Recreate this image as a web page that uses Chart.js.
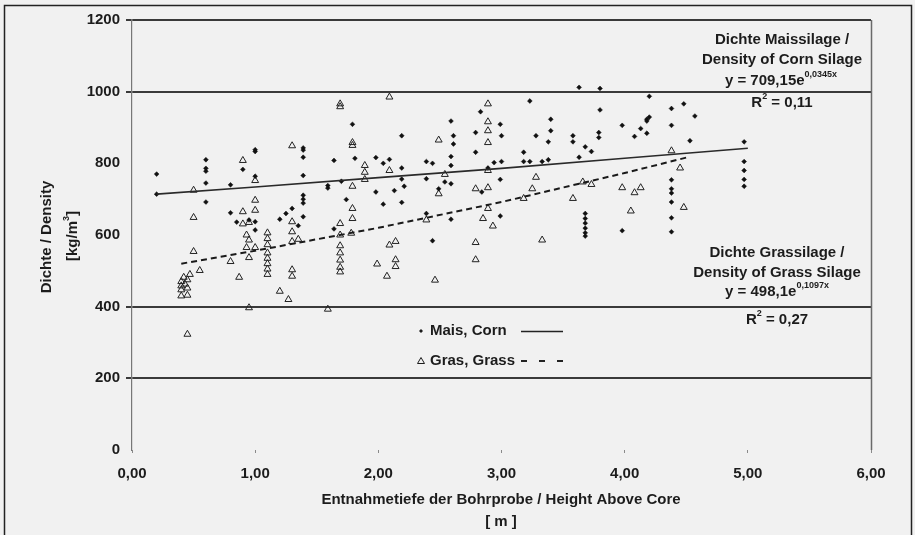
<!DOCTYPE html>
<html>
<head>
<meta charset="utf-8">
<script src="https://cdn.jsdelivr.net/npm/chart.js@4/dist/chart.umd.min.js"></script>
<style>
  html, body { margin: 0; padding: 0; background: #f1f1f1; }
  #wrap { position: relative; width: 915px; height: 535px; overflow: hidden; }
  canvas { display: block; }
</style>
</head>
<body>
<div id="wrap"><canvas id="c" width="915" height="535"></canvas></div>
<script>
// ---- Data ----
const cornX = [
  0.2,0.2,
  0.6,0.6,0.6,0.6,0.6,
  0.8,0.8,0.85,0.9,0.95,
  1.0,1.0,1.0,1.0,1.0,
  1.2,1.25,1.3,1.35,
  1.39,1.39,1.39,1.39,1.39,1.39,1.39,1.39,
  1.59,1.59,1.64,1.64,1.7,1.74,1.79,1.81,
  1.98,1.98,2.04,2.04,2.09,2.13,
  2.19,2.19,2.19,2.19,2.21,
  2.39,2.39,2.39,2.44,2.44,2.49,2.54,
  2.59,2.59,2.59,2.59,2.59,2.61,2.61,
  2.79,2.79,2.83,2.84,2.89,2.94,
  2.99,2.99,2.99,3.0,3.0,
  3.18,3.18,3.23,3.23,3.28,3.33,
  3.38,3.38,3.4,3.4,
  3.58,3.58,3.63,3.63,
  3.68,3.68,3.68,3.68,3.68,3.68,3.68,
  3.73,3.79,3.79,3.8,3.8,
  3.98,3.98,4.08,4.13,
  4.18,4.18,4.18,4.2,4.2,
  4.38,4.38,4.38,4.38,4.38,4.38,4.38,4.38,
  4.48,4.53,4.57,
  4.97,4.97,4.97,4.97,4.97
];
const cornY = [
  770,714,
  810,786,778,745,692,
  740,662,636,783,642,
  833,838,764,637,614,
  644,660,674,626,
  843,837,817,766,711,700,689,651,
  738,731,808,617,750,699,909,814,
  816,720,800,686,811,724,
  877,787,756,691,736,
  805,757,660,800,584,729,748,
  918,819,794,743,644,877,854,
  886,831,944,720,787,802,
  909,755,653,877,805,
  831,805,974,805,877,805,
  860,810,923,891,
  877,860,1012,817,
  846,660,646,633,619,606,597,
  833,886,872,1009,949,
  906,612,875,897,
  884,923,918,987,929,
  953,906,754,729,717,692,648,609,
  966,863,932,
  860,805,780,755,736
];
const grassX = [
  0.4,0.4,0.4,0.4,0.42,0.43,
  0.45,0.45,0.45,0.45,0.47,
  0.5,0.5,0.5,0.55,0.8,0.87,
  0.9,0.9,0.9,0.93,0.93,
  0.95,0.95,0.95,0.95,
  1.0,1.0,1.0,1.0,
  1.1,1.1,1.1,1.1,1.1,1.1,1.1,1.1,
  1.2,1.27,
  1.3,1.3,1.3,1.3,1.3,1.3,1.35,
  1.59,
  1.69,1.69,1.69,1.69,1.69,1.69,1.69,1.69,1.69,
  1.78,1.79,1.79,1.79,1.79,1.79,
  1.89,1.89,1.89,1.99,2.07,
  2.09,2.09,2.09,2.14,2.14,2.14,
  2.39,2.46,2.49,2.49,2.54,
  2.79,2.79,2.79,2.85,
  2.89,2.89,2.89,2.89,2.89,2.89,2.89,
  2.93,3.18,3.25,3.28,3.33,
  3.58,3.66,3.73,3.98,4.05,4.08,4.13,
  4.38,4.45,4.48
];
const grassY = [
  470,458,447,430,482,463,
  452,475,432,323,490,
  725,649,554,501,526,482,
  808,665,631,600,565,
  586,537,397,635,
  752,697,669,565,
  606,590,573,550,535,520,505,490,
  443,420,
  849,637,609,582,503,485,588,
  393,
  966,958,632,600,570,550,530,510,497,
  605,858,850,736,674,646,
  794,775,755,519,485,
  985,780,572,582,531,512,
  642,474,865,715,769,
  729,579,531,646,
  966,916,891,858,780,732,674,
  625,702,729,761,586,
  702,748,741,732,667,718,732,
  835,787,677
];
// Trend lines
const trendCornX = [0.2, 1, 2, 3, 4, 5];
const trendCornY = [714, 734, 760, 786, 814, 842];
const trendGrassX = [0.4, 1, 2, 3, 4, 4.5];
const trendGrassY = [520, 556, 620, 692, 773, 816];
// Axis settings
const yGridValues = [1200, 1000, 400, 200];
const xTickValues = [0, 1, 2, 3, 4, 5, 6];

const FONT = '"Liberation Sans", Arial, Helvetica, sans-serif';
const INK = '#1c1c1c';

function pts(xs, ys) { return xs.map((x, i) => ({ x: x, y: ys[i] })); }

const textPlugin = {
  id: 'texts',
  afterDraw(chart) {
    const ctx = chart.ctx;
    const ca = chart.chartArea;
    ctx.save();
    // right border of the plot
    ctx.strokeStyle = '#6a6a6a';
    ctx.lineWidth = 1.5;
    ctx.beginPath();
    ctx.moveTo(Math.round(ca.right) + 0.5, ca.top);
    ctx.lineTo(Math.round(ca.right) + 0.5, ca.bottom);
    ctx.stroke();
    // outer frame
    ctx.strokeStyle = '#222';
    ctx.lineWidth = 1.5;
    ctx.strokeRect(4.5, 5.5, 907, 545);

    ctx.fillStyle = INK;
    ctx.textBaseline = 'middle';
    ctx.textAlign = 'center';
    ctx.font = 'bold 15px ' + FONT;

    // x axis title
    ctx.fillText('Entnahmetiefe der Bohrprobe / Height Above Core', 501, 500);
    ctx.fillText('[ m ]', 501, 522);

    // y axis title (rotated)
    ctx.save();
    ctx.translate(47, 237);
    ctx.rotate(-Math.PI / 2);
    ctx.fillText('Dichte / Density', 0, 0);
    ctx.restore();
    ctx.save();
    ctx.translate(73, 236);
    ctx.rotate(-Math.PI / 2);
    drawSup(ctx, '[kg/m', '3', ']', 0, 0, 15, 9);
    ctx.restore();

    // equations blocks
    ctx.font = 'bold 15px ' + FONT;
    ctx.fillText('Dichte Maissilage /', 782, 40);
    ctx.fillText('Density of Corn Silage', 782, 60);
    drawSup(ctx, 'y = 709,15e', '0,0345x', '', 781, 81, 15, 9);
    drawSup(ctx, 'R', '2', ' = 0,11', 782, 103, 15, 9);

    ctx.fillText('Dichte Grassilage /', 777, 253);
    ctx.fillText('Density of Grass Silage', 777, 273);
    drawSup(ctx, 'y = 498,1e', '0,1097x', '', 777, 292, 15, 9);
    drawSup(ctx, 'R', '2', ' = 0,27', 777, 320, 15, 9);

    // legend
    ctx.textAlign = 'left';
    ctx.font = 'bold 15px ' + FONT;
    ctx.fillText('Mais, Corn', 430, 331);
    ctx.fillText('Gras, Grass', 430, 361);
    // corn marker
    ctx.beginPath();
    ctx.moveTo(421, 329); ctx.lineTo(423, 331); ctx.lineTo(421, 333); ctx.lineTo(419, 331);
    ctx.closePath();
    ctx.fill();
    // grass marker
    ctx.strokeStyle = INK;
    ctx.lineWidth = 1;
    ctx.beginPath();
    ctx.moveTo(421, 357.5); ctx.lineTo(424.5, 363.5); ctx.lineTo(417.5, 363.5);
    ctx.closePath();
    ctx.stroke();
    // legend lines
    ctx.lineWidth = 1.5;
    ctx.strokeStyle = '#222';
    ctx.beginPath();
    ctx.moveTo(521, 331.5); ctx.lineTo(563, 331.5);
    ctx.stroke();
    ctx.setLineDash([6, 12]);
    ctx.lineWidth = 2;
    ctx.beginPath();
    ctx.moveTo(521, 361); ctx.lineTo(564, 361);
    ctx.stroke();
    ctx.setLineDash([]);
    ctx.restore();
  }
};

function drawSup(ctx, base, sup, tail, cx, cy, size, supSize) {
  ctx.save();
  ctx.font = 'bold ' + size + 'px ' + FONT;
  const wb = ctx.measureText(base).width;
  const wt = ctx.measureText(tail).width;
  ctx.font = 'bold ' + supSize + 'px ' + FONT;
  const ws = ctx.measureText(sup).width;
  const total = wb + ws + wt;
  let x = cx - total / 2;
  ctx.textAlign = 'left';
  ctx.textBaseline = 'middle';
  ctx.font = 'bold ' + size + 'px ' + FONT;
  ctx.fillText(base, x, cy);
  x += wb;
  ctx.font = 'bold ' + supSize + 'px ' + FONT;
  ctx.fillText(sup, x, cy - size * 0.4);
  x += ws;
  ctx.font = 'bold ' + size + 'px ' + FONT;
  ctx.fillText(tail, x, cy);
  ctx.restore();
}

Chart.defaults.font.family = FONT;
Chart.defaults.font.size = 15;
Chart.defaults.font.weight = 'bold';
Chart.defaults.color = INK;

new Chart(document.getElementById('c'), {
  type: 'scatter',
  data: {
    datasets: [
      {
        label: 'Mais, Corn',
        data: pts(cornX, cornY),
        pointStyle: 'rectRot',
        pointRadius: 2.4,
        backgroundColor: '#111',
        borderColor: '#111',
        borderWidth: 0.5,
        order: 2
      },
      {
        label: 'Gras, Grass',
        data: pts(grassX, grassY),
        pointStyle: 'triangle',
        pointRadius: 4,
        backgroundColor: 'rgba(0,0,0,0)',
        borderColor: '#222',
        borderWidth: 1,
        order: 3
      },
      {
        label: 'Trend Corn',
        data: pts(trendCornX, trendCornY),
        showLine: true,
        pointRadius: 0,
        borderColor: '#2a2a2a',
        borderWidth: 1.6,
        fill: false,
        tension: 0,
        order: 1
      },
      {
        label: 'Trend Grass',
        data: pts(trendGrassX, trendGrassY),
        showLine: true,
        pointRadius: 0,
        borderColor: '#1a1a1a',
        borderWidth: 2,
        borderDash: [6, 4],
        fill: false,
        tension: 0,
        order: 1
      }
    ]
  },
  options: {
    responsive: false,
    animation: false,
    devicePixelRatio: 1,
    layout: { padding: { left: 0, top: 20, right: 44, bottom: 0 } },
    plugins: {
      legend: { display: false },
      tooltip: { enabled: false }
    },
    scales: {
      x: {
        type: 'linear',
        min: 0, max: 6,
        afterFit(scale) { scale.height = 85; },
        afterBuildTicks(scale) { scale.ticks = xTickValues.map(v => ({ value: v })); },
        border: { display: false },
        grid: {
          drawOnChartArea: false,
          color: 'rgba(0,0,0,0)',
          tickColor: '#8a8a8a',
          tickLength: 3,
          lineWidth: 1
        },
        ticks: {
          padding: 12,
          font: { size: 15, weight: 'bold' },
          callback: (v) => Number(v).toFixed(2).replace('.', ',')
        }
      },
      y: {
        type: 'linear',
        min: 0, max: 1200,
        afterFit(scale) { scale.width = 132; },
        ticks: {
          stepSize: 200,
          padding: 6,
          font: { size: 15, weight: 'bold' },
          callback: (v) => String(v)
        },
        border: { display: true, color: '#777', width: 1.2 },
        grid: {
          color: (c) => (c.tick && yGridValues.includes(c.tick.value)) ? '#3a3a3a' : 'rgba(0,0,0,0)',
          tickColor: (c) => (c.tick && yGridValues.includes(c.tick.value)) ? '#3a3a3a' : 'rgba(0,0,0,0)',
          lineWidth: 2,
          tickLength: 6
        }
      }
    }
  },
  plugins: [textPlugin]
});
</script>
</body>
</html>
